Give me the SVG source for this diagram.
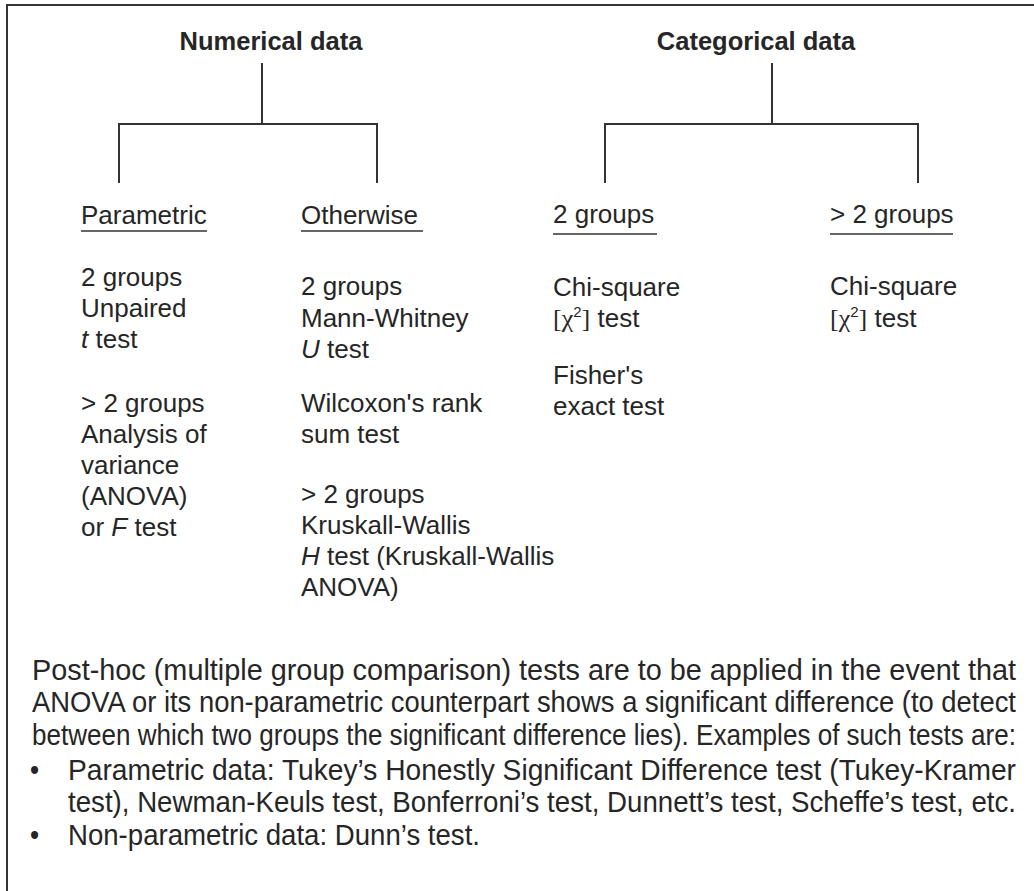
<svg xmlns="http://www.w3.org/2000/svg" width="1034" height="891" viewBox="0 0 1034 891">
<style>
text{font-family:"Liberation Sans",Arial,sans-serif;fill:#262626}
.h{font-size:25.5px;font-weight:bold}
.c{font-size:26px}
.p{font-size:26px}
.s{font-family:"Liberation Serif","Times New Roman",serif}
.sup{font-size:15px}
.ln{stroke:#333;stroke-width:2;fill:none}
.ul{stroke:#333;stroke-width:1.6}
</style>
<rect x="0" y="0" width="1034" height="891" fill="#fff"/>
<path class="ln" d="M7,891 V5 H1034"/>
<g id="connectors">
<path class="ln" d="M262,63 V124 M119,183 V124 H377 V183"/>
<path class="ln" d="M772,63 V124 M605,183 V124 H918 V183"/>
</g>
<g id="numerical"><text class="h" x="271" y="50" text-anchor="middle">Numerical data</text></g>
<g id="categorical"><text class="h" x="756" y="50" text-anchor="middle">Categorical data</text></g>
<g id="parametric">
<text class="c" x="81" y="224">Parametric</text>
<line class="ul" x1="81" y1="231" x2="207" y2="231"/>
<text class="c" x="81" y="286">2 groups</text>
<text class="c" x="81" y="317">Unpaired</text>
<text class="c" x="81" y="348"><tspan font-style="italic">t</tspan> test</text>
<text class="c" x="81" y="412">&gt; 2 groups</text>
<text class="c" x="81" y="443">Analysis of</text>
<text class="c" x="81" y="474">variance</text>
<text class="c" x="81" y="505">(ANOVA)</text>
<text class="c" x="81" y="536">or <tspan font-style="italic">F</tspan> test</text>
</g>
<g id="otherwise">
<text class="c" x="301" y="224">Otherwise</text>
<line class="ul" x1="301" y1="231" x2="423" y2="231"/>
<text class="c" x="301" y="295">2 groups</text>
<text class="c" x="301" y="327">Mann-Whitney</text>
<text class="c" x="301" y="358"><tspan font-style="italic">U</tspan> test</text>
<text class="c" x="301" y="412">Wilcoxon's rank</text>
<text class="c" x="301" y="443">sum test</text>
<text class="c" x="301" y="503">&gt; 2 groups</text>
<text class="c" x="301" y="534">Kruskall-Wallis</text>
<text class="c" x="301" y="565"><tspan font-style="italic">H</tspan> test (Kruskall-Wallis</text>
<text class="c" x="301" y="596">ANOVA)</text>
</g>
<g id="two-groups">
<text class="c" x="553" y="223">2 groups</text>
<line class="ul" x1="553" y1="234" x2="657" y2="234"/>
<text class="c" x="553" y="296">Chi-square</text>
<text class="c" x="553" y="327"><tspan class="s">[χ</tspan><tspan class="sup" dy="-10">2</tspan><tspan class="s" dy="10">]</tspan> test</text>
<text class="c" x="553" y="384">Fisher's</text>
<text class="c" x="553" y="415">exact test</text>
</g>
<g id="more-groups">
<text class="c" x="830" y="223">&gt; 2 groups</text>
<line class="ul" x1="830" y1="234" x2="953" y2="234"/>
<text class="c" x="830" y="295">Chi-square</text>
<text class="c" x="830" y="327"><tspan class="s">[χ</tspan><tspan class="sup" dy="-10">2</tspan><tspan class="s" dy="10">]</tspan> test</text>
</g>
<g id="posthoc" transform="scale(1,1.1)">
<text class="p" x="32" y="618.2" textLength="984" lengthAdjust="spacingAndGlyphs">Post-hoc (multiple group comparison) tests are to be applied in the event that</text>
<text class="p" x="32" y="647.3" textLength="984" lengthAdjust="spacingAndGlyphs">ANOVA or its non-parametric counterpart shows a significant difference (to detect</text>
<text class="p" x="32" y="677.3" textLength="984" lengthAdjust="spacingAndGlyphs">between which two groups the significant difference lies). Examples of such tests are:</text>
<text class="p" x="30" y="709.1">•</text>
<text class="p" x="68" y="709.1" textLength="948" lengthAdjust="spacingAndGlyphs">Parametric data: Tukey’s Honestly Significant Difference test (Tukey-Kramer</text>
<text class="p" x="68" y="738.2" textLength="948" lengthAdjust="spacingAndGlyphs">test), Newman-Keuls test, Bonferroni’s test, Dunnett’s test, Scheffe’s test, etc.</text>
<text class="p" x="30" y="768.2">•</text>
<text class="p" x="68" y="768.2" textLength="412" lengthAdjust="spacingAndGlyphs">Non-parametric data: Dunn’s test.</text>
</g>
</svg>
